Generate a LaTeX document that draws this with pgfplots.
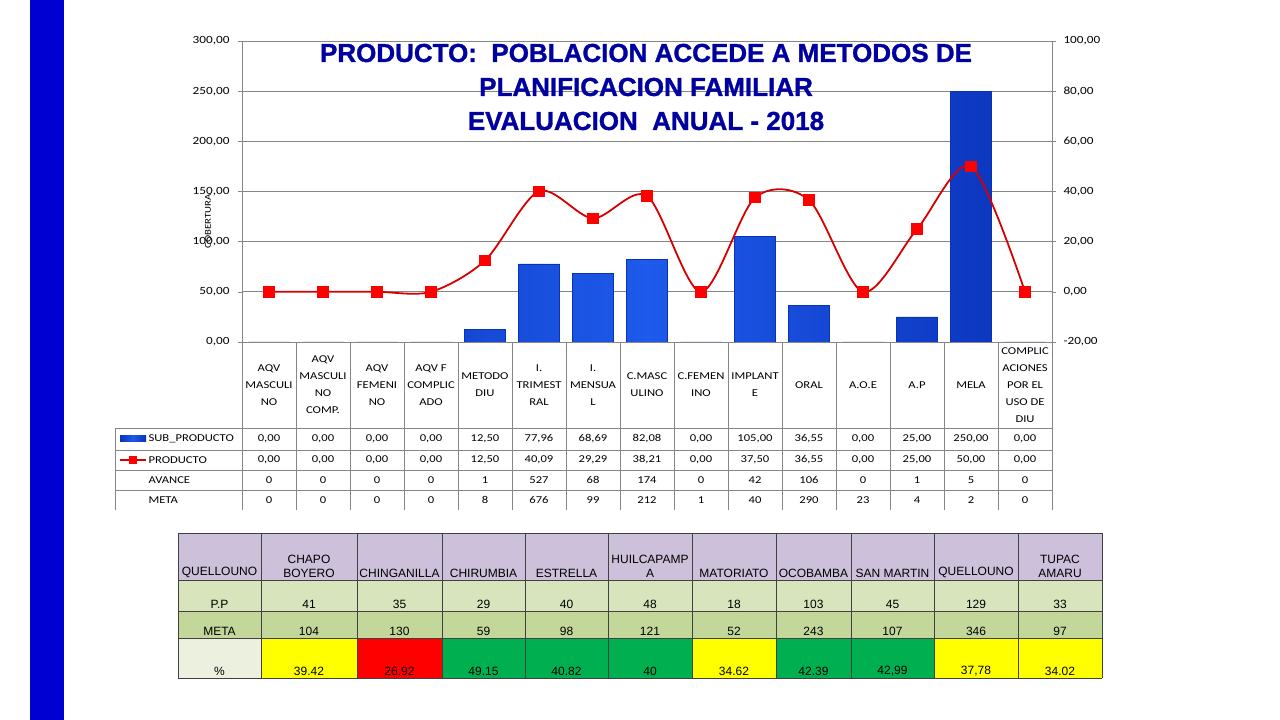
\documentclass[border=0pt]{standalone}
\usepackage{pgfplots}
\pgfplotsset{compat=1.18}
\usepackage{fontspec}
\setmainfont{Carlito}[FakeStretch=1.2]
\newfontfamily\arialfont{Liberation Sans}
\newfontfamily\titlefont{Liberation Sans}[BoldFeatures={FakeBold=1.2}]
\definecolor{slideblue}{RGB}{0,0,210}
\definecolor{titleblue}{RGB}{0,0,160}
\definecolor{barblue}{RGB}{30,90,235}
\definecolor{bardark}{RGB}{10,50,185}
\definecolor{linered}{RGB}{215,0,0}
\definecolor{gridgray}{RGB}{134,134,134}
\definecolor{hdrlilac}{RGB}{204,192,218}
\definecolor{pprow}{RGB}{216,228,188}
\definecolor{metarow}{RGB}{196,215,155}
\definecolor{pctcell}{RGB}{235,241,222}
\definecolor{cyellow}{RGB}{255,255,0}
\definecolor{cred}{RGB}{255,0,0}
\definecolor{cgreen}{RGB}{0,176,80}

\begin{document}
\begin{tikzpicture}[x=1pt,y=1pt]
\fill[white] (0,0) rectangle (1280,720);
\fill[slideblue] (30,0) rectangle (64,720);
\coordinate (plotSW) at (242,378);

\pgfplotsset{chartbase/.style={
  at={(plotSW)}, anchor=south west, scale only axis,
  width=810pt, height=301pt, xmin=-0.5, xmax=14.5,
  xtick=\empty,
  tick align=outside, major tick length=4pt,
  tick style={gridgray, line width=0.6pt},
  axis line style={gridgray, line width=0.8pt},
  y tick label style={font=\fontsize{11}{13}\selectfont,
    /pgf/number format/fixed, /pgf/number format/fixed zerofill,
    /pgf/number format/precision=2, /pgf/number format/use comma,
    /pgf/number format/1000 sep={}, /pgf/number format/assume math mode=true},
}}

% left axis: SUB_PRODUCTO bars
\begin{axis}[chartbase, ymin=0, ymax=300, ytick={0,50,...,300},
  axis y line*=left, axis x line*=bottom, ymajorgrids,
  yticklabel style={xshift=-5pt},
  grid style={gridgray, line width=0.8pt}]
\addplot[ybar, bar width=41pt, draw=bardark, line width=0.4pt,
  left color=bardark, right color=bardark, middle color=barblue]
  coordinates {(0,0) (1,0) (2,0) (3,0) (4,12.5) (5,77.96) (6,68.69) (7,82.08)
               (8,0) (9,105) (10,36.55) (11,0) (12,25) (13,250) (14,0)};
\end{axis}

% right axis: PRODUCTO line
\begin{axis}[chartbase, ymin=-20, ymax=100, ytick={-20,0,...,100},
  axis y line*=right, axis x line=none, yticklabel style={xshift=4pt}]
\addplot[smooth, linered, line width=1.8pt, mark=square*, mark size=4.8pt,
  mark options={fill=red, draw=red, solid}]
  coordinates {(0,0) (1,0) (2,0) (3,0) (4,12.5) (5,40.09) (6,29.29) (7,38.21)
               (8,0) (9,37.5) (10,36.55) (11,0) (12,25) (13,50) (14,0)};
\end{axis}

% axis title
\node[rotate=90, font=\fontsize{9}{10}\selectfont] at (208,720-221) {COBERTURA};

% chart title
\node[align=center, text=titleblue, font=\titlefont\bfseries\fontsize{26}{34}\selectfont]
  at (646,720-87) {PRODUCTO:\ \ POBLACION ACCEDE A METODOS DE\\PLANIFICACION FAMILIAR\\EVALUACION\ \ ANUAL - 2018};

% data table lines
\begin{scope}[gridgray, line width=0.8pt]
\foreach \yy in {428,450,470,490} \draw (115,720-\yy) -- (1052,720-\yy);
\draw (115,720-428) -- (115,720-510);
\foreach \k in {0,...,15} \draw (242+54*\k,720-342) -- (242+54*\k,720-510);
\end{scope}

\begin{scope}[font=\fontsize{10.5}{17}\selectfont]
\foreach \lab [count=\i from 0] in {{AQV\\MASCULI\\NO},{AQV\\MASCULI\\NO\\COMP.},
  {AQV\\FEMENI\\NO},{AQV F\\COMPLIC\\ADO},{METODO\\DIU},{I.\\TRIMEST\\RAL},
  {I.\\MENSUA\\L},{C.MASC\\ULINO},{C.FEMEN\\INO},{IMPLANT\\E},{ORAL},{A.O.E},
  {A.P},{MELA},{COMPLIC\\ACIONES\\POR EL\\USO DE\\DIU}}
  \node[align=center, inner sep=0pt] at (269+54*\i,720-385) {\lab};

\node[anchor=west] at (145,720-439) {SUB\_PRODUCTO};
\node[anchor=west] at (145,720-460) {PRODUCTO};
\node[anchor=west] at (145,720-480) {AVANCE};
\node[anchor=west] at (145,720-500) {META};

\foreach \v [count=\i from 0] in {{0,00},{0,00},{0,00},{0,00},{12,50},{77,96},{68,69},
  {82,08},{0,00},{105,00},{36,55},{0,00},{25,00},{250,00},{0,00}}
  \node at (269+54*\i,720-439) {\v};
\foreach \v [count=\i from 0] in {{0,00},{0,00},{0,00},{0,00},{12,50},{40,09},{29,29},
  {38,21},{0,00},{37,50},{36,55},{0,00},{25,00},{50,00},{0,00}}
  \node at (269+54*\i,720-460) {\v};
\foreach \v [count=\i from 0] in {0,0,0,0,1,527,68,174,0,42,106,0,1,5,0}
  \node at (269+54*\i,720-480) {\v};
\foreach \v [count=\i from 0] in {0,0,0,0,8,676,99,212,1,40,290,23,4,2,0}
  \node at (269+54*\i,720-500) {\v};
\end{scope}

% legend keys
\shade[left color=bardark, right color=bardark, middle color=barblue] (120,720-442) rectangle (146,720-436);
\draw[linered, line width=1.8pt] (120,720-460) -- (146,720-460);
\fill[red] (129,720-464) rectangle (137,720-456);

% lower table
\fill[hdrlilac] (178,720-533) rectangle (1102,720-580);
\fill[pprow] (178,720-580) rectangle (1102,720-611);
\fill[metarow] (178,720-611) rectangle (1102,720-638);
\fill[pctcell] (178,720-638) rectangle (261,720-678);
\begin{scope}[font=\arialfont\fontsize{12}{14}\selectfont]
\foreach \xa/\xb/\c/\t in {261/357/cyellow/39.42, 357/442/cred/26.92, 442/525/cgreen/49.15,
  525/608/cgreen/40.82, 608/692/cgreen/40, 692/776/cyellow/34.62, 776/851/cgreen/42.39,
  851/934/cgreen/{42,99}, 934/1018/cyellow/{37,78}, 1018/1102/cyellow/34.02}
{
  \fill[\c] (\xa,720-638) rectangle (\xb,720-678);
  \node[anchor=south, inner sep=1pt] at ({(\xa+\xb)/2},720-677) {\t};
}
\foreach \xa/\xb/\t in {178/261/QUELLOUNO, 261/357/{CHAPO\\BOYERO}, 357/442/CHINGANILLA,
  442/525/CHIRUMBIA, 525/608/ESTRELLA, 608/692/{HUILCAPAMP\\A}, 692/776/MATORIATO,
  776/851/OCOBAMBA, 851/934/SAN MARTIN, 934/1018/QUELLOUNO, 1018/1102/{TUPAC\\AMARU}}
  \node[anchor=south, align=center, inner sep=1pt] at ({(\xa+\xb)/2},720-579) {\t};
\foreach \xa/\xb/\t in {178/261/P.P, 261/357/41, 357/442/35, 442/525/29, 525/608/40,
  608/692/48, 692/776/18, 776/851/103, 851/934/45, 934/1018/129, 1018/1102/33}
  \node[anchor=south, inner sep=1pt] at ({(\xa+\xb)/2},720-610) {\t};
\foreach \xa/\xb/\t in {178/261/META, 261/357/104, 357/442/130, 442/525/59, 525/608/98,
  608/692/121, 692/776/52, 776/851/243, 851/934/107, 934/1018/346, 1018/1102/97}
  \node[anchor=south, inner sep=1pt] at ({(\xa+\xb)/2},720-637) {\t};
\node[anchor=south, inner sep=1pt] at (219.5,720-677) {\%};
\end{scope}
\begin{scope}[black!75, line width=0.9pt]
\foreach \yy in {533,580,611,638,678} \draw (178,720-\yy) -- (1102,720-\yy);
\foreach \xx in {178,261,357,442,525,608,692,776,851,934,1018,1102}
  \draw (\xx,720-533) -- (\xx,720-678);
\end{scope}
\end{tikzpicture}
\end{document}
